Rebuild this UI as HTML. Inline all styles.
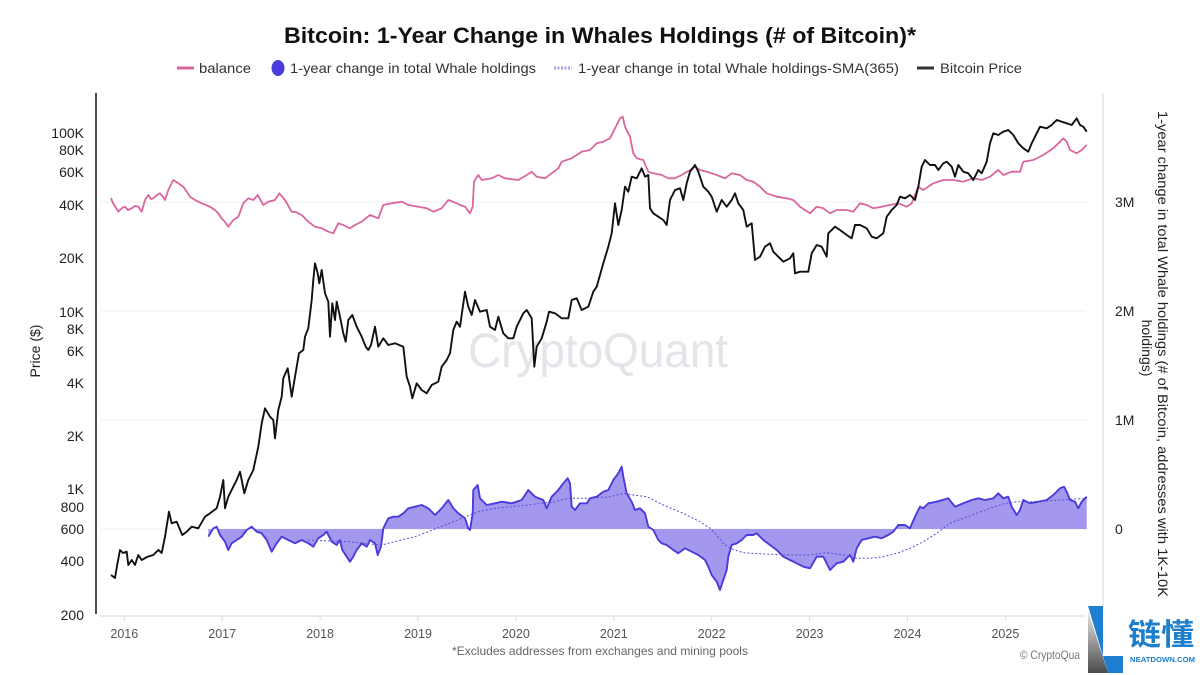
<!DOCTYPE html>
<html><head><meta charset="utf-8"><style>
html,body{margin:0;padding:0;background:#fff;}
svg{display:block;}
text{font-family:"Liberation Sans","Noto Sans CJK SC",sans-serif;}
</style></head><body>
<svg width="1200" height="675" viewBox="0 0 1200 675" xmlns="http://www.w3.org/2000/svg">
<defs>
<linearGradient id="lg" x1="0" y1="0" x2="0" y2="1">
<stop offset="0" stop-color="#e8e8e8"/><stop offset="1" stop-color="#4a4a4a"/>
</linearGradient>
</defs>
<rect width="1200" height="675" fill="#fff"/>
<!-- title -->
<text x="284" y="43" font-size="22" font-weight="bold" fill="#111" textLength="632" lengthAdjust="spacingAndGlyphs">Bitcoin: 1-Year Change in Whales Holdings (# of Bitcoin)*</text>
<!-- legend -->
<line x1="177" y1="68" x2="194" y2="68" stroke="#d9669f" stroke-width="3"/>
<text x="199" y="73" font-size="14" fill="#333" textLength="52" lengthAdjust="spacingAndGlyphs">balance</text>
<ellipse cx="278" cy="68" rx="6.5" ry="8" fill="#4a3bdc"/>
<text x="290" y="73" font-size="14" fill="#333" textLength="246" lengthAdjust="spacingAndGlyphs">1-year change in total Whale holdings</text>
<line x1="554" y1="68" x2="572" y2="68" stroke="#a9a2e6" stroke-width="3" stroke-dasharray="2,1.5"/>
<text x="578" y="73" font-size="14" fill="#333" textLength="321" lengthAdjust="spacingAndGlyphs">1-year change in total Whale holdings-SMA(365)</text>
<line x1="917" y1="68" x2="934" y2="68" stroke="#333" stroke-width="3"/>
<text x="940" y="73" font-size="14" fill="#333" textLength="82" lengthAdjust="spacingAndGlyphs">Bitcoin Price</text>

<!-- gridlines -->
<g stroke="#efefef" stroke-width="1">
<line x1="100" y1="202" x2="1086" y2="202"/>
<line x1="100" y1="311" x2="1086" y2="311"/>
<line x1="100" y1="420" x2="1086" y2="420"/>
<line x1="100" y1="529" x2="1086" y2="529"/>
</g>
<!-- x axis -->
<line x1="100" y1="616" x2="1086" y2="616" stroke="#dedede" stroke-width="1.2"/>
<g stroke="#dedede" stroke-width="1">
<line x1="124.3" y1="616" x2="124.3" y2="621"/><line x1="222.2" y1="616" x2="222.2" y2="621"/>
<line x1="320.1" y1="616" x2="320.1" y2="621"/><line x1="418" y1="616" x2="418" y2="621"/>
<line x1="515.9" y1="616" x2="515.9" y2="621"/><line x1="613.8" y1="616" x2="613.8" y2="621"/>
<line x1="711.7" y1="616" x2="711.7" y2="621"/><line x1="809.6" y1="616" x2="809.6" y2="621"/>
<line x1="907.5" y1="616" x2="907.5" y2="621"/><line x1="1005.4" y1="616" x2="1005.4" y2="621"/>
</g>
<g font-size="12.5" fill="#555" text-anchor="middle">
<text x="124.3" y="638">2016</text><text x="222.2" y="638">2017</text><text x="320.1" y="638">2018</text>
<text x="418" y="638">2019</text><text x="515.9" y="638">2020</text><text x="613.8" y="638">2021</text>
<text x="711.7" y="638">2022</text><text x="809.6" y="638">2023</text><text x="907.5" y="638">2024</text>
<text x="1005.4" y="638">2025</text>
</g>
<!-- left axis -->
<line x1="96" y1="93" x2="96" y2="614" stroke="#111" stroke-width="1.5"/>
<g font-size="14" fill="#222" text-anchor="end">
<text x="84" y="138">100K</text><text x="84" y="155">80K</text><text x="84" y="177">60K</text>
<text x="84" y="210">40K</text><text x="84" y="263">20K</text><text x="84" y="317">10K</text>
<text x="84" y="334">8K</text><text x="84" y="356">6K</text><text x="84" y="388">4K</text>
<text x="84" y="441">2K</text><text x="84" y="494">1K</text><text x="84" y="512">800</text>
<text x="84" y="534">600</text><text x="84" y="566">400</text><text x="84" y="620">200</text>
</g>
<text transform="translate(40,351) rotate(-90)" font-size="14" fill="#222" text-anchor="middle">Price ($)</text>
<!-- right axis -->
<line x1="1103" y1="93" x2="1103" y2="606" stroke="#dcdcdc" stroke-width="1.2"/>
<g font-size="14" fill="#222">
<text x="1115" y="207">3M</text><text x="1115" y="316">2M</text><text x="1115" y="425">1M</text><text x="1115" y="534">0</text>
</g>
<text transform="translate(1158,354) rotate(90)" font-size="14" fill="#222" text-anchor="middle" textLength="486" lengthAdjust="spacingAndGlyphs">1-year change in total Whale holdings (# of Bitcoin, addresses with 1K-10K</text>
<text transform="translate(1142,348) rotate(90)" font-size="14" fill="#222" text-anchor="middle">holdings)</text>

<!-- watermark -->
<text x="468" y="367" font-size="48" fill="#e4e4ea" textLength="260" lengthAdjust="spacingAndGlyphs">CryptoQuant</text>

<!-- area -->
<path fill="#a497ee" stroke="none" d="M208.3,529 L208.3,536.7 213.3,528.3 216.7,526.7 220,535 225,541.7 228.3,550 231.7,543.3 236.7,540 241.7,536.7 246.7,530 251.7,526.7 256.7,531.7 261.7,533.3 266.7,540 271.7,551.7 276.7,543.3 281.7,536.7 288.3,540 295,543.3 301.7,540 308.3,543.3 313.3,546.7 318.3,538.3 323.3,535 326.7,531.7 331.7,541.7 336.7,545 340,540 342.3,550 346.7,556.7 350,561.7 353.3,556.7 356.7,550 361.7,543.3 366.7,546.7 370,540 375,543.3 377.7,555 381,546.7 383.3,528.3 388.3,518.3 393.3,516.7 398.3,516.7 403.3,513.3 408.3,508.3 415,506.7 421.7,505 428.3,508.3 435,515 441.7,508.3 448.3,500 453.3,508.3 458.3,513.3 465,518.3 468.3,528.3 470,530 472.7,513.3 473.3,490 477.7,485 480,498.3 486.7,505 495,503.3 501.7,501.7 511.7,503.3 521.7,500 528.3,490 535,496.7 543.3,500 546.7,508.3 551.7,496.7 558.3,490 563.3,483.3 567.7,478.3 570,483.3 571.7,506.7 575,510 580,503.3 586.7,503.3 590,498.3 596.7,496.7 603.3,491.7 608.3,490 613.3,480 618.3,473.3 621.7,466.7 623.3,476.7 626.7,493.3 631.7,501.7 635,510 640,508.3 645,513.3 648.3,526.7 653.3,530 658.3,540 661.7,543.3 666.7,545 673.3,550 678.3,553.3 685,548.3 691.7,551.7 698.3,555 705,560 708.3,566.7 711.7,575 716.7,581.7 720,590 723.3,580 726.7,570 728.3,556.7 731.7,545 736.7,543.3 741.7,540 746.7,535 753.3,535 756.7,533.3 763.3,540 770,545 776.7,550 783.3,556.7 790,560 796.7,563.3 803.3,566.7 810,568.3 816.7,556.7 823.3,556.7 826.7,563.3 830,570 836.7,563.3 843.3,561.7 850,555 853.3,561.7 856.7,548.3 861.7,540 868.3,538.3 875,536.7 881.7,538.3 888.3,535 893.3,531.7 898.3,525 905,525 910,528.3 915,516.7 920,506.7 923.3,508.3 928.3,503.3 936.7,501.7 948.3,498.3 955,506.7 963.3,503.3 971.7,500 978.3,498.3 985,500 993.3,498.3 998.3,493.3 1003.3,498.3 1008.3,496.7 1011.7,506.7 1016.7,515 1020,510 1023.3,500 1030,503.3 1038.3,501.7 1046.7,500 1053.3,495 1060,488.3 1064,486.7 1066.7,491.7 1070,500 1075,501.7 1078.3,508.3 1081.7,501.7 1086.7,496.7 L1086.7,529 Z"/>
<polyline fill="none" stroke="#4a3bdc" stroke-width="1.9" stroke-linejoin="round" points="208.3,536.7 213.3,528.3 216.7,526.7 220,535 225,541.7 228.3,550 231.7,543.3 236.7,540 241.7,536.7 246.7,530 251.7,526.7 256.7,531.7 261.7,533.3 266.7,540 271.7,551.7 276.7,543.3 281.7,536.7 288.3,540 295,543.3 301.7,540 308.3,543.3 313.3,546.7 318.3,538.3 323.3,535 326.7,531.7 331.7,541.7 336.7,545 340,540 342.3,550 346.7,556.7 350,561.7 353.3,556.7 356.7,550 361.7,543.3 366.7,546.7 370,540 375,543.3 377.7,555 381,546.7 383.3,528.3 388.3,518.3 393.3,516.7 398.3,516.7 403.3,513.3 408.3,508.3 415,506.7 421.7,505 428.3,508.3 435,515 441.7,508.3 448.3,500 453.3,508.3 458.3,513.3 465,518.3 468.3,528.3 470,530 472.7,513.3 473.3,490 477.7,485 480,498.3 486.7,505 495,503.3 501.7,501.7 511.7,503.3 521.7,500 528.3,490 535,496.7 543.3,500 546.7,508.3 551.7,496.7 558.3,490 563.3,483.3 567.7,478.3 570,483.3 571.7,506.7 575,510 580,503.3 586.7,503.3 590,498.3 596.7,496.7 603.3,491.7 608.3,490 613.3,480 618.3,473.3 621.7,466.7 623.3,476.7 626.7,493.3 631.7,501.7 635,510 640,508.3 645,513.3 648.3,526.7 653.3,530 658.3,540 661.7,543.3 666.7,545 673.3,550 678.3,553.3 685,548.3 691.7,551.7 698.3,555 705,560 708.3,566.7 711.7,575 716.7,581.7 720,590 723.3,580 726.7,570 728.3,556.7 731.7,545 736.7,543.3 741.7,540 746.7,535 753.3,535 756.7,533.3 763.3,540 770,545 776.7,550 783.3,556.7 790,560 796.7,563.3 803.3,566.7 810,568.3 816.7,556.7 823.3,556.7 826.7,563.3 830,570 836.7,563.3 843.3,561.7 850,555 853.3,561.7 856.7,548.3 861.7,540 868.3,538.3 875,536.7 881.7,538.3 888.3,535 893.3,531.7 898.3,525 905,525 910,528.3 915,516.7 920,506.7 923.3,508.3 928.3,503.3 936.7,501.7 948.3,498.3 955,506.7 963.3,503.3 971.7,500 978.3,498.3 985,500 993.3,498.3 998.3,493.3 1003.3,498.3 1008.3,496.7 1011.7,506.7 1016.7,515 1020,510 1023.3,500 1030,503.3 1038.3,501.7 1046.7,500 1053.3,495 1060,488.3 1064,486.7 1066.7,491.7 1070,500 1075,501.7 1078.3,508.3 1081.7,501.7 1086.7,496.7"/>
<!-- SMA -->
<polyline fill="none" stroke="#5a4ad8" stroke-width="1" stroke-dasharray="2,2" points="308,540 330,541 348.3,541.7 365,543.5 381.7,545 395,541.7 415,536.7 428.3,531.7 445,525 461.7,518.3 478.3,511.7 495,508.3 528.3,505 555,501.7 568.3,498.3 590,498.3 610,496.7 623.3,493.3 633.3,495 646.7,496.7 663.3,505 683.3,513.3 700,521.7 710,528.3 716.7,535 723.3,543.3 730,548.3 743.3,552.7 763.3,554 790,555 810,555 826.7,552.7 843.3,555 856.7,558.3 870,558.3 883.3,556.7 896.7,553.3 910,548.3 923.3,541.7 936.7,533.3 950,523.3 963.3,518.3 976.7,513.3 990,508.3 1003.3,504 1016.7,501.7 1030,501.7 1050,500.7 1070,499.3 1086.7,498.3"/>
<!-- balance -->
<polyline fill="none" stroke="#d9669f" stroke-width="1.8" stroke-linejoin="round" points="111,198 113,203 118.3,211.7 122,208 125,206.7 128,210 131.7,208.3 135,206 138.3,206.7 141.7,211.7 145,200 148.3,195 151,199 153.3,198.3 157,195 160,193.3 163,197 165,200 168.3,190 173.3,180 178.3,183.3 183.3,186.7 187,192 190,196.7 195,200 201.7,203.3 206,205 210,206.7 215,210 218,213 221.7,218.3 225,222 228.3,226.7 233.3,220 238.3,216.7 243.3,203.3 248.3,198.3 253.3,200 257.7,195 263.3,205 268.3,201.7 275,200 279.3,193.3 285,200 291.7,211.7 296,212 301.7,215 308.3,221.7 315,226.7 321.7,228.3 328.3,231.7 333.3,233.3 338.3,223.3 343.3,225 350,228.3 355,225 361.7,221.7 370,215 378.3,218.3 383.3,205 391.7,203.3 401.7,201.7 408.3,205 418.3,206.7 426.7,208.3 433.3,211.7 441.7,208.3 448.3,200 453.3,201.7 460,205 465,206.7 470,213.3 472.7,206.7 474,181.7 478.3,175 481.7,180 491.7,178.3 498.3,175 505,178.3 518.3,180 526.7,175 531.7,171.7 536.7,176.7 545,178.3 551.7,173.3 558.3,168.3 561.7,161.7 571.7,158.3 581.7,151.7 590,150 596.7,143.3 603.3,141.7 610,138.3 615,128.3 620,118.3 622.7,116.7 625,126.7 630,136.7 633.3,153.3 636.7,158.3 643.3,160 648.3,171.7 653.3,173.3 661.7,175 668.3,178.3 675,178.3 681.7,175 690,170 695,166.7 700,170 706.7,171.7 716.7,175 725,178.3 731.7,173.3 740,175 746.7,180 753.3,181.7 760,186.7 766.7,193.3 776.7,196.7 786.7,198.3 793.3,200 800,206.7 810,213.3 816.7,206.7 823.3,208.3 830,213.3 836.7,210 846.7,210 853.3,211.7 860,203.3 866.7,205 873.3,208.3 881.7,206.7 890,205 898.3,203.3 906.7,206.7 911.7,203.3 918.3,186.7 923.3,190 933.3,183.3 943.3,180 953.3,180 963.3,181.7 973.3,178.3 981.7,180 990,176.7 998.3,170 1003.3,175 1011.7,171.7 1020,171.7 1023.3,161.7 1033.3,160 1043.3,155 1053.3,148.3 1060,141.7 1063.3,138.3 1066.7,141.7 1070,150 1076.7,153.3 1081.7,150 1086.7,145"/>
<!-- price -->
<polyline fill="none" stroke="#111" stroke-width="1.9" stroke-linejoin="round" points="111,575 115,578 117,566 120,550 123,553 126.7,551.7 128.3,565 131.7,560 135,565 138.3,555 141.7,560 147,557 153.3,555 158.3,550 161.7,553 165,536.7 169,511.7 171.7,523.3 176.7,521.7 182.3,535 186.7,531.7 191.7,526.7 198.3,528.3 205,516.7 210,513.3 216.7,508.3 220,496.7 223.3,480 225,508.3 228.3,496.7 233.3,486.7 236.7,480 240,471.7 241.7,480 244.3,493.3 248.3,480 253.3,470 258.3,446.7 261.7,423.3 265,408.3 270,416.7 273.3,420 275,438.3 278.3,410 281.7,396.7 283.3,378.3 287.7,368.3 291.7,396.7 295,376.7 299,353.3 303.3,350 305,336.7 308.3,328.3 311.7,300 313.3,280 315,263.3 317.7,273.3 319.3,283.3 321.7,270 325,293.3 328.3,301.7 330,336.7 332.3,303.3 335,320 336.7,301.7 340,316.7 343.3,333.3 345.7,341.7 348.3,320 352.3,315 356.7,326.7 361.7,336.7 365.7,346.7 368.3,350 371,345 375,326.7 378.3,346.7 383.3,338.3 388.3,345 395,343.3 403.3,346.7 406.7,376.7 410,386.7 412.3,398.3 416.7,383.3 421.7,390 426.7,393.3 431.7,385 438.3,381.7 441.7,366.7 446.7,360 450,353.3 453.3,330 456.7,321.7 460,326.7 465,291.7 468.3,306.7 471.7,315 475,300 480,311.7 486.7,310 490,326.7 495,330 498.3,316.7 503.3,333.3 508.3,338.3 513.3,338.3 516.7,326.7 523.3,313.3 526.7,310 531.7,318.3 534.3,366.7 536.7,346.7 541.7,338.3 546.7,321.7 549,311.7 555,313.3 561.7,318.3 568.3,318.3 571.7,300 576.7,298.3 581.7,310 588.3,306.7 593.3,291.7 596.7,286.7 603.3,263.3 608.3,246.7 611.7,233.3 615,203.3 618.3,225 621.7,210 625,186.7 628.3,191.7 631.7,176.7 636.7,178.3 641.7,168.3 645,176.7 648.3,175 650,208.3 653.3,213.3 658.3,216.7 663.3,220 666.7,225 670,200 675,190 680,188.3 683.3,200 686.7,183.3 690,171.7 695,165 698.3,171.7 703.3,186.7 708.3,191.7 711.7,196.7 716.7,211.7 721.7,200 726.7,206.7 731.7,200 735,193.3 738.3,203.3 743.3,210 746.7,226.7 751.7,223.3 755,260 760,256.7 765,246.7 770,243.3 773.3,251.7 778.3,256.7 783.3,261.7 790,258.3 793.3,253.3 795,273.3 800,271.7 808.3,271.7 811.7,253.3 816.7,245 821.7,246.7 826.7,256.7 828.3,233.3 835,226.7 840,230 846.7,235 851.7,238.3 855,225 860,225 866.7,228.3 871.7,236.7 876.7,238.3 883.3,233.3 886.7,216.7 891.7,210 896.7,205 900,196.7 905,198.3 910,195 915,200 918.3,186.7 921.7,166.7 925,160 930,165 935,165 938.3,170 943.3,163.3 946.7,161.7 951.7,166.7 955,176.7 958.3,165 963.3,171.7 968.3,173.3 973.3,180 978.3,170 981.7,173.3 986.7,161.7 990,143.3 993.3,133.3 998.3,135 1003.3,131.7 1008.3,130 1013.3,135 1018.3,143.3 1023.3,148.3 1028.3,151.7 1031.7,143.3 1035,136.7 1040,126.7 1046.7,128.3 1051.7,125 1056.7,120 1061.7,121.7 1066.7,123.3 1071.7,125 1076.7,118.3 1080,125 1083.3,126.7 1086.7,131.7"/>

<!-- footer -->
<text x="600" y="655" font-size="12" fill="#666" text-anchor="middle" textLength="296" lengthAdjust="spacingAndGlyphs">*Excludes addresses from exchanges and mining pools</text>
<text x="1020" y="659" font-size="12" fill="#777" textLength="60" lengthAdjust="spacingAndGlyphs">© CryptoQua</text>

<!-- logo -->
<polygon points="1088,606 1103,606 1103,656 1123,656 1123,673 1108,673" fill="#1e7fd0"/>
<polygon points="1088,611 1108,673 1088,673" fill="url(#lg)"/>
<text x="1128" y="645" font-size="30" font-weight="bold" fill="#1d7fcc" textLength="66" lengthAdjust="spacingAndGlyphs" style="font-family:'Noto Sans CJK SC','WenQuanYi Zen Hei',sans-serif">链懂</text>
<text x="1130" y="662" font-size="7.5" font-weight="bold" fill="#1d7fcc" textLength="65" lengthAdjust="spacingAndGlyphs">NEATDOWN.COM</text>
</svg>
</body></html>
